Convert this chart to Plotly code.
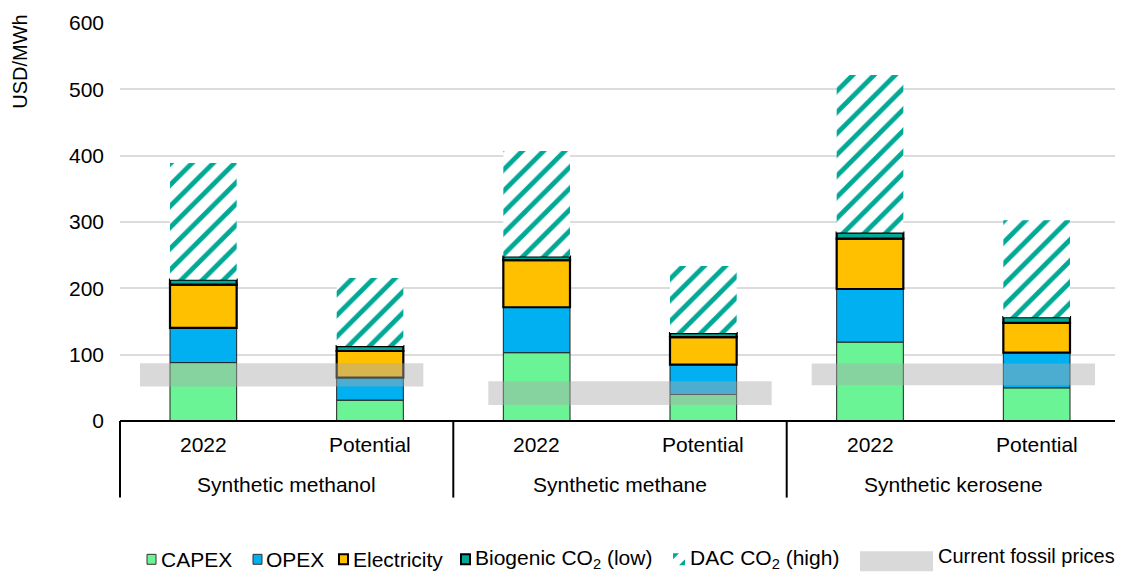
import plotly.graph_objects as go

# ---------------- data ----------------
groups = ["Synthetic methanol", "Synthetic methane", "Synthetic kerosene"]
scenarios = ["2022", "Potential"]

capex = [88, 31.5, 103, 40, 119, 50]
opex = [52.5, 34, 68.5, 45, 80, 53]
electricity = [65, 40, 71, 41.5, 76, 45]
biogenic_co2 = [7.5, 7.5, 5.5, 6, 9, 8.5]
dac_co2 = [176, 102.5, 159, 101, 237.5, 146]

fossil_low = [52, 24, 54]
fossil_high = [87, 60, 86.5]

y_ticks = [0, 100, 200, 300, 400, 500, 600]

# ---------------- style ----------------
GREEN = "#6AF496"
BLUE = "#00B0F0"
YELLOW = "#FFC000"
TEAL = "#00A896"
FONT = "Liberation Sans, Arial, sans-serif"

OFF = 8  # page body margin
W, H = 1115, 566
L, T = 112, 13
PW, PH = 1000, 400
R, B = W - L - PW, H - T - PH


def px(x):  # window pixel -> paper
    return (x - OFF - L) / PW


def py(y):
    return (T + PH + OFF - y) / PH


xpos = list(range(len(capex)))

fig = go.Figure()

base = [0.0] * len(capex)
segments = [
    ("CAPEX", capex, dict(color=GREEN, line=dict(color="#222", width=1))),
    ("OPEX", opex, dict(color=BLUE, line=dict(color="#222", width=1))),
    ("Electricity", electricity, dict(color=YELLOW, line=dict(color="black", width=2.2))),
    ("Biogenic CO2 (low)", biogenic_co2, dict(color=TEAL, line=dict(color="black", width=2.2))),
    ("DAC CO2 (high)", dac_co2, dict(color="white", line=dict(width=0),
                                     pattern=dict(shape="/", fgcolor=TEAL, bgcolor="white",
                                                  size=15, solidity=0.32, fillmode="replace"))),
]
for name, vals, marker in segments:
    fig.add_trace(go.Bar(x=xpos, y=vals, base=list(base), width=0.4, name=name,
                         marker=marker, showlegend=False))
    base = [b + v for b, v in zip(base, vals)]

# fossil price bands (drawn on top, semi-transparent)
band_offset = [0.47, 0.56, 0.50]
band_x = [2 * g + band_offset[g] for g in range(len(groups))]
fig.add_trace(go.Bar(
    x=band_x,
    y=[h - l for h, l in zip(fossil_high, fossil_low)],
    base=fossil_low,
    width=1.7,
    marker=dict(color="rgba(170,170,170,0.45)", line=dict(width=0)),
    name="Current fossil prices",
    showlegend=False,
))

shapes = []
annotations = []

# category box lines
shapes.append(dict(type="line", xref="paper", yref="paper", x0=0, x1=1, y0=0, y1=0,
                   line=dict(color="black", width=2)))
for xp in [120, 453.3, 786.7]:
    shapes.append(dict(type="line", xref="paper", yref="paper", x0=px(xp), x1=px(xp),
                       y0=0, y1=py(498), line=dict(color="black", width=2)))
shapes.append(dict(type="line", xref="paper", yref="paper", x0=px(1120), x1=px(1120),
                   y0=0, y1=py(498), line=dict(color="#aaaaaa", width=1)))

# category labels
for g, gname in enumerate(groups):
    for s, sname in enumerate(scenarios):
        annotations.append(dict(x=2 * g + s, xref="x", y=py(445), yref="paper",
                                text=sname, showarrow=False, xanchor="center", yanchor="middle",
                                font=dict(size=21, color="black", family=FONT)))
    annotations.append(dict(x=2 * g + 0.5, xref="x", y=py(485), yref="paper",
                            text=gname, showarrow=False, xanchor="center", yanchor="middle",
                            font=dict(size=21, color="black", family=FONT)))

# y-axis title
annotations.append(dict(x=px(20), y=py(60), xref="paper", yref="paper", text="USD/MWh",
                        textangle=-90, showarrow=False, xanchor="center", yanchor="middle",
                        font=dict(size=20, color="black", family=FONT)))

# manual legend
leg_y = 560
sw = [
    (147, 156, GREEN, "#333", 1, "CAPEX", 159),
    (253, 262, BLUE, "#333", 1, "OPEX", 264),
    (339, 348, YELLOW, "black", 2, "Electricity", 351),
    (461, 470, TEAL, "black", 2, "Biogenic CO<sub>2</sub> (low)", 473),
]
for x0, x1, fc, lc, lw, txt, tx in sw:
    shapes.append(dict(type="rect", xref="paper", yref="paper", x0=px(x0), x1=px(x1),
                       y0=py(leg_y + 5), y1=py(leg_y - 5), fillcolor=fc,
                       line=dict(color=lc, width=lw)))
    annotations.append(dict(x=px(tx), y=py(leg_y), xref="paper", yref="paper", text=txt,
                            showarrow=False, xanchor="left", yanchor="middle",
                            font=dict(size=21, color="black", family=FONT)))
# DAC swatch (tiny hatch)
shapes.append(dict(type="path", xref="paper", yref="paper",
                   path=f"M {px(673)},{py(554)} L {px(679)},{py(554)} L {px(673)},{py(560)} Z",
                   fillcolor=TEAL, line=dict(width=0)))
shapes.append(dict(type="path", xref="paper", yref="paper",
                   path=f"M {px(685)},{py(566)} L {px(679)},{py(566)} L {px(685)},{py(560)} Z",
                   fillcolor=TEAL, line=dict(width=0)))
annotations.append(dict(x=px(688), y=py(leg_y), xref="paper", yref="paper",
                        text="DAC CO<sub>2</sub> (high)", showarrow=False, xanchor="left",
                        yanchor="middle", font=dict(size=21, color="black", family=FONT)))
# fossil swatch
shapes.append(dict(type="rect", xref="paper", yref="paper", x0=px(860), x1=px(933),
                   y0=py(572), y1=py(552), fillcolor="#d9d9d9", line=dict(width=0)))
annotations.append(dict(x=px(936), y=py(557), xref="paper", yref="paper",
                        text="Current fossil prices", showarrow=False, xanchor="left",
                        yanchor="middle", font=dict(size=20, color="black", family=FONT)))

fig.update_layout(
    width=W, height=H,
    margin=dict(l=L, r=R, t=T, b=B),
    barmode="overlay",
    plot_bgcolor="white", paper_bgcolor="white",
    font=dict(family=FONT, size=21, color="black"),
    showlegend=False,
    shapes=shapes,
    annotations=annotations,
    xaxis=dict(range=[-0.5, 5.5], showticklabels=False, showgrid=False, zeroline=False,
               ticks="", showline=False, fixedrange=True),
    yaxis=dict(range=[0, 600], tickvals=y_ticks, showgrid=True, gridcolor="#dcdcdc",
               gridwidth=2, zeroline=False, showline=False, ticks="",
               ticklabelstandoff=15, tickfont=dict(size=21, color="black", family=FONT)),
)

fig.write_html("out.html")
